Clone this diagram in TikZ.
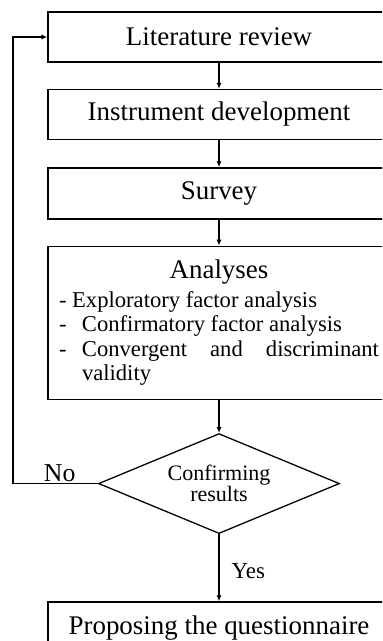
\documentclass[tikz,border=0pt]{standalone}
\usepackage{fontspec}
\setmainfont{Liberation Serif}
\usetikzlibrary{arrows.meta,positioning,shapes.geometric}

\begin{document}
\begin{tikzpicture}[
  >={Latex[length=5pt,width=4.5pt]},
  every node/.style={font=\fontsize{23}{27}\selectfont},
  stage/.style={draw,line width=1.2pt,minimum width=10.26cm,minimum height=1.5cm,
                inner sep=0pt,align=center},
  check/.style={draw,line width=1.1pt,diamond,aspect=2.41,inner sep=0pt,
                minimum width=7.23cm,minimum height=3cm,align=center,
                font=\fontsize{18.8}{16.2}\selectfont},
  flow/.style={->,line width=1.2pt},
  lbl/.style={inner sep=1pt}
]

%% page frame, boxes run off the right edge
\useasboundingbox (0,0) rectangle (11.46,-19.23);
\clip (0,0) rectangle (11.46,-19.23);

%% main column
\node[stage] (lit) at (6.57,-1.11) {Literature review};
\node[stage,below=0.78cm of lit]  (inst) {Instrument development};
\node[stage,below=0.81cm of inst,minimum height=1.53cm] (surv) {Survey};
\node[stage,below=0.78cm of surv,minimum height=4.59cm,text width=9.6cm,
      align=justify,font=\fontsize{19.3}{20.8}\selectfont] (ana) {%
  \parindent=0pt\hyphenpenalty=10000
  {\centering\fontsize{23}{27}\selectfont Analyses\par}\vspace{4pt}
  - Exploratory factor analysis\par
  \makebox[0.69cm][l]{-}Confirmatory factor analysis\par
  \hangindent=0.69cm\hangafter=1
  \makebox[0.69cm][l]{-}Convergent and discriminant validity\par};
\node[check,below=0.99cm of ana] (conf) {Confirming\\results};
\node[stage,below=2.01cm of conf,minimum height=1.56cm] (prop) {Proposing the questionnaire};

%% loop-back corner
\coordinate (back) at (0.39,0);

%% arrows
\draw[flow] (lit)  -- (inst);
\draw[flow] (inst) -- (surv);
\draw[flow] (surv) -- (ana);
\draw[flow] (ana)  -- (conf);
\draw[flow] (conf) -- node[lbl,right,pos=0.55,xshift=0.32cm,
                           font=\fontsize{19.6}{22}\selectfont] (yes) {Yes} (prop);
\draw[flow] (conf.west) -- node[lbl,above,pos=0.45,
                           font=\fontsize{22}{26}\selectfont] (no) {No}
            (conf.west -| back) |- (lit.west);

\end{tikzpicture}
\end{document}
